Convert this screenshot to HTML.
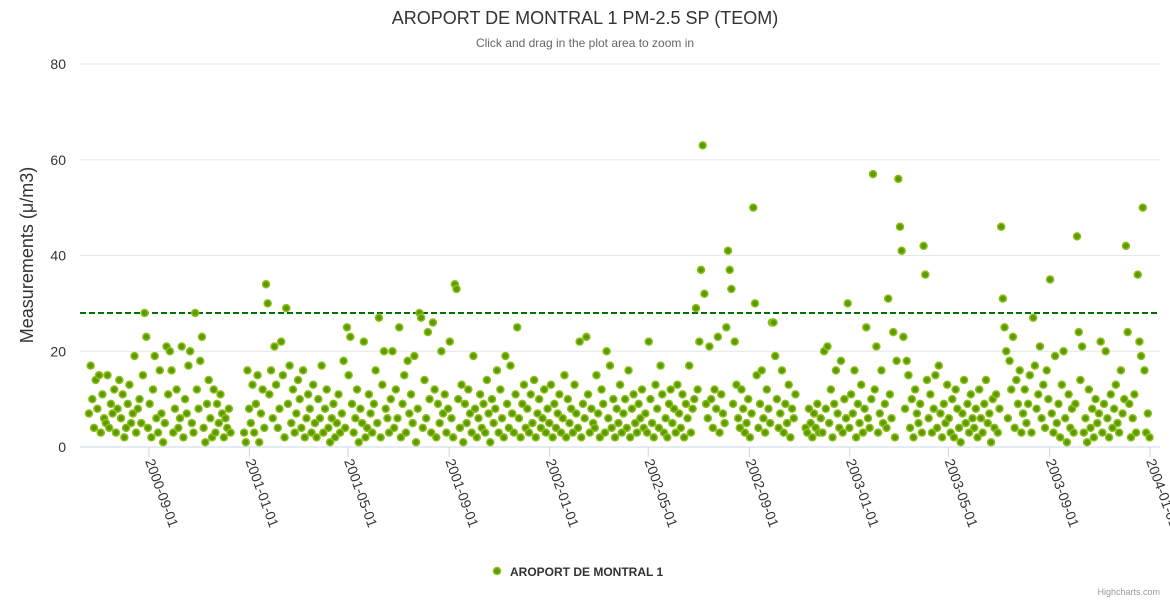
<!DOCTYPE html>
<html><head><meta charset="utf-8"><style>
body{margin:0;background:#fff;font-family:"Liberation Sans","DejaVu Sans",sans-serif;}
svg{display:block}
</style></head><body>
<svg id="chart" width="1170" height="600" xmlns="http://www.w3.org/2000/svg">
<rect width="1170" height="600" fill="#fff"/>
<text x="585" y="24" text-anchor="middle" font-size="18" fill="#333">AROPORT DE MONTRAL 1 PM-2.5 SP (TEOM)</text>
<text x="585" y="47" text-anchor="middle" font-size="12" fill="#666">Click and drag in the plot area to zoom in</text>
<text transform="translate(33,255) rotate(-90)" text-anchor="middle" font-size="18" fill="#333">Measurements (μ/m3)</text>
<g id="grid"></g><g id="xaxis"></g><g id="points"></g>
<g>
<circle cx="497" cy="571" r="3.5" fill="#5c9a00" stroke="#8cbf1a" stroke-width="1.5"/>
<text x="510" y="576" font-size="12" font-weight="bold" fill="#333">AROPORT DE MONTRAL 1</text>
</g>
<text x="1160" y="595" text-anchor="end" font-size="9" fill="#999">Highcharts.com</text>
</svg>
<script>
const startDate = "2000-06-20";
const stepDays = 2.05;
const threshold = 28;
const yTicks = [0, 20, 40, 60, 80];
const xTickLabels = ["2000-09-01","2001-01-01","2001-05-01","2001-09-01","2002-01-01","2002-05-01","2002-09-01","2003-01-01","2003-05-01","2003-09-01","2004-01-01"];
const values = [
7,17,10,4,14,8,15,3,11,6,5,15,4,9,7,
12,3,8,14,6,11,2,4,9,13,5,7,19,3,8,
10,5,15,28,23,4,9,2,12,19,6,3,16,7,1,
5,21,11,20,16,3,8,12,4,6,21,2,10,7,17,
20,5,3,28,12,8,18,23,4,1,9,14,6,2,12,
3,9,5,11,7,2,6,4,8,3,null,null,null,null,null,
null,null,3,1,16,8,5,13,3,9,15,1,7,12,4,
34,30,11,16,6,21,13,4,8,22,15,2,29,9,17,
5,12,3,7,14,10,4,16,2,6,11,8,3,13,5,
2,10,6,17,3,8,12,4,1,6,9,2,5,11,3,
7,18,4,25,15,23,9,3,6,12,1,8,5,22,2,
4,11,7,3,9,16,5,27,2,13,20,8,6,3,10,
20,4,12,6,25,2,9,15,3,18,7,11,5,19,1,
8,28,27,4,14,6,24,10,3,26,12,2,9,5,20,
7,11,3,8,22,6,2,34,33,10,4,13,1,9,5,
12,7,3,19,8,2,6,11,4,9,3,14,7,1,10,
5,8,16,3,12,6,2,19,9,4,17,7,3,11,25,
6,2,9,13,4,8,3,11,5,14,2,7,10,4,6,
12,3,8,5,13,2,9,4,7,11,3,6,15,2,10,
5,8,3,13,7,4,22,2,9,6,23,11,3,8,5,
4,15,7,2,12,9,3,20,6,17,4,10,2,8,5,
13,3,7,10,4,16,2,8,11,5,3,9,6,12,4,
7,3,22,10,5,2,13,8,4,17,11,3,6,2,9,
12,5,8,3,13,7,4,11,2,9,6,17,3,8,10,
29,12,22,37,63,32,9,6,21,10,4,12,8,23,3,
11,7,5,25,41,37,33,9,22,13,6,4,12,8,3,
5,10,2,7,50,30,15,4,9,16,6,3,12,8,5,
26,26,19,10,4,7,16,3,9,5,13,2,8,6,11,
null,null,null,null,null,4,3,8,5,2,7,4,9,3,6,
3,20,8,21,5,12,2,9,16,7,4,18,3,10,6,
30,4,11,7,16,2,9,5,13,3,8,25,6,4,10,
57,12,21,3,7,16,5,9,4,31,11,6,24,2,18,
56,46,41,23,8,18,15,4,10,2,12,7,5,9,3,
42,36,14,6,11,3,8,15,4,17,7,2,9,5,13,
6,3,10,2,12,8,4,1,7,14,5,9,3,11,6,
4,8,2,12,6,3,9,14,5,7,1,10,4,11,3,
8,46,31,25,20,6,18,12,23,4,14,9,16,3,7,
12,5,9,15,3,27,17,8,11,21,6,13,4,16,10,
35,7,3,19,5,9,2,13,20,6,1,11,4,8,3,
9,44,24,14,21,3,6,1,12,4,8,2,10,5,7,
22,3,9,20,6,2,11,4,8,13,5,3,16,7,10,
42,24,9,2,6,11,3,36,22,19,50,16,3,7,2
];
const NS="http://www.w3.org/2000/svg";
const X0=80, X1=1160, Y0=447, Y1=64;
const t0=Date.parse(startDate), tA=Date.parse("2000-09-01"), tB=Date.parse("2004-01-01");
function xScale(t){return 149+(t-tA)/(tB-tA)*(1150-149);}
function yScale(v){return Y0-(v/80)*(Y0-Y1);}
function mk(tag,attrs,parent){const e=document.createElementNS(NS,tag);for(const k in attrs)e.setAttribute(k,attrs[k]);parent.appendChild(e);return e;}
const grid=document.getElementById('grid');
yTicks.forEach(v=>{
  const y=yScale(v);
  const l=mk('line',{x1:X0,x2:X1,y1:y,y2:y,stroke:v===0?'#ccd6eb':'#e6e6e6','stroke-width':1},grid);
  
  
  const t=mk('text',{x:66,y:y+5,'text-anchor':'end','font-size':14,fill:'#333'},grid);
  t.textContent=v;
  
  
});
const xa=document.getElementById('xaxis');
xTickLabels.forEach(s=>{
  const x=xScale(Date.parse(s));
  const tk=mk('line',{x1:x,x2:x,y1:Y0,y2:Y0+10,stroke:'#ccd6eb'},xa);
  
  
  const t=mk('text',{transform:`translate(${x-4},${Y0+14}) rotate(70)`,'font-size':14,fill:'#333'},xa);
  t.textContent=s;
  
  
});
const th=mk('line',{x1:X0,x2:X1,y1:yScale(threshold),y2:yScale(threshold),stroke:'#007000','stroke-width':2,'stroke-dasharray':'6,3'},grid);


const pg=document.getElementById('points');
values.forEach((v,i)=>{
  if(v===null)return;
  const t=t0+i*stepDays*86400000;
  const c=mk('circle',{cx:xScale(t),cy:yScale(v),r:3.5,fill:'#5c9a00',stroke:'#8cbf1a','stroke-width':1.5},pg);
  
  
});
</script>
</body></html>
